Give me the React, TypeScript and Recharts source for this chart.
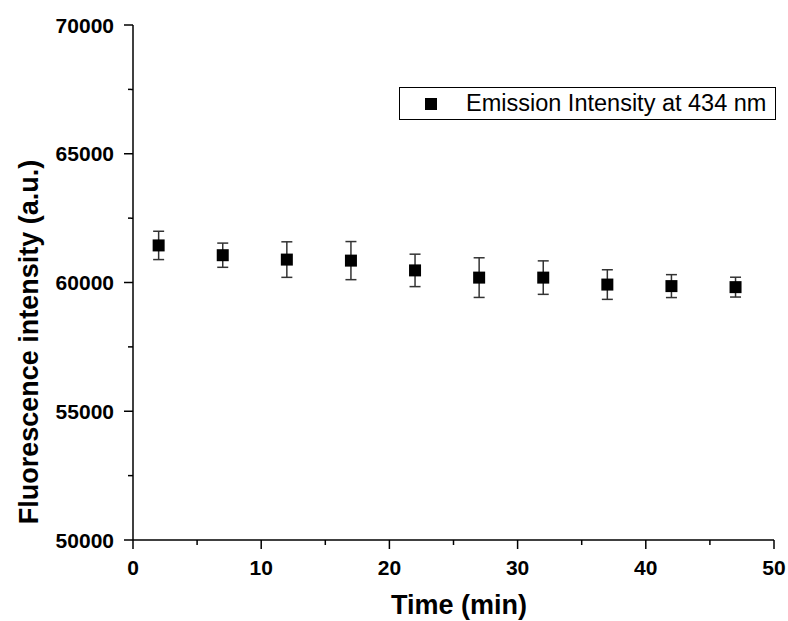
import React from 'react';
import { ScatterChart, Scatter, XAxis, YAxis, ErrorBar, Legend, Label } from 'recharts';

const times = [2, 7, 12, 17, 22, 27, 32, 37, 42, 47];
const intensity = [61440, 61060, 60890, 60850, 60470, 60190, 60190, 59920, 59860, 59820];
const errors = [550, 470, 690, 740, 630, 770, 650, 575, 445, 385];
const xTicks = [0, 5, 10, 15, 20, 25, 30, 35, 40, 45, 50];
const xMajor = [0, 10, 20, 30, 40, 50];
const yTicks = [50000, 52500, 55000, 57500, 60000, 62500, 65000, 67500, 70000];
const yMajor = [50000, 55000, 60000, 65000, 70000];
const seriesName = 'Emission Intensity at 434 nm';

const data = times.map((t, i) => ({ t, v: intensity[i], e: errors[i] }));

const FONT = '"Liberation Sans", Arial, Helvetica, sans-serif';

const XTick = (props: any) => {
  const { x, y, payload } = props;
  const major = xMajor.includes(payload.value);
  return (
    <g>
      <line x1={x} y1={y} x2={x} y2={y + (major ? 9 : 5)} stroke="#000" strokeWidth={1.5} />
      {major && (
        <text x={x} y={y + 35} textAnchor="middle" fontFamily={FONT} fontWeight="bold" fontSize={21} fill="#000">
          {payload.value}
        </text>
      )}
    </g>
  );
};

const YTick = (props: any) => {
  const { x, y, payload } = props;
  const major = yMajor.includes(payload.value);
  return (
    <g>
      <line x1={x - (major ? 9 : 5)} y1={y} x2={x} y2={y} stroke="#000" strokeWidth={1.5} />
      {major && (
        <text x={x - 19} y={y + 7.5} textAnchor="end" fontFamily={FONT} fontWeight="bold" fontSize={21} fill="#000">
          {payload.value}
        </text>
      )}
    </g>
  );
};

const SquareShape = (props: any) => {
  const { cx, cy } = props;
  return <rect x={cx - 6} y={cy - 6} width={12} height={12} fill="#000" />;
};

const LegendBox = () => (
  <div
    style={{
      position: 'relative',
      width: 377,
      height: 33,
      border: '1px solid #000',
      boxSizing: 'border-box',
      background: '#fff',
      fontFamily: FONT,
    }}
  >
    <div style={{ position: 'absolute', left: 25, top: 10, width: 12, height: 12, background: '#000' }} />
    <div
      style={{
        position: 'absolute',
        left: 66,
        top: 0,
        height: 31,
        lineHeight: '31px',
        fontSize: 23.5,
        color: '#000',
        whiteSpace: 'nowrap',
      }}
    >
      {seriesName}
    </div>
  </div>
);

export default function App() {
  return (
    <div style={{ position: 'absolute', left: 0, top: 0, width: 788, height: 621, background: '#fff' }}>
      <ScatterChart width={788} height={621} margin={{ top: 25, right: 14, left: 0, bottom: -12 }}>
        <XAxis
          type="number"
          dataKey="t"
          domain={[0, 50]}
          ticks={xTicks}
          interval={0}
          tickSize={0}
          tickMargin={0}
          tickLine={false}
          axisLine={{ stroke: '#000', strokeWidth: 1.5 }}
          tick={<XTick />}
          height={60}
          allowDataOverflow
        >
          <Label
            content={() => (
              <text x={459} y={614} textAnchor="middle" fontFamily={FONT} fontWeight="bold" fontSize={27} fill="#000">
                Time (min)
              </text>
            )}
          />
        </XAxis>
        <YAxis
          type="number"
          dataKey="v"
          domain={[50000, 70000]}
          ticks={yTicks}
          interval={0}
          tickSize={0}
          tickMargin={0}
          tickLine={false}
          axisLine={{ stroke: '#000', strokeWidth: 1.5 }}
          tick={<YTick />}
          width={133}
          allowDataOverflow
        >
          <Label
            content={() => (
              <text
                x={38}
                y={342}
                transform="rotate(-90 38 342)"
                textAnchor="middle"
                fontFamily={FONT}
                fontWeight="bold"
                fontSize={27}
                fill="#000"
              >
                Fluorescence intensity (a.u.)
              </text>
            )}
          />
        </YAxis>
        <Legend
          content={() => <LegendBox />}
          wrapperStyle={{ position: 'absolute', left: 399, top: 87, width: 377, height: 33 }}
        />
        <Scatter name={seriesName} data={data} fill="#000" shape={<SquareShape />} isAnimationActive={false}>
          <ErrorBar dataKey="e" direction="y" width={5.5} stroke="#333" strokeWidth={1.5} />
        </Scatter>
      </ScatterChart>
    </div>
  );
}
